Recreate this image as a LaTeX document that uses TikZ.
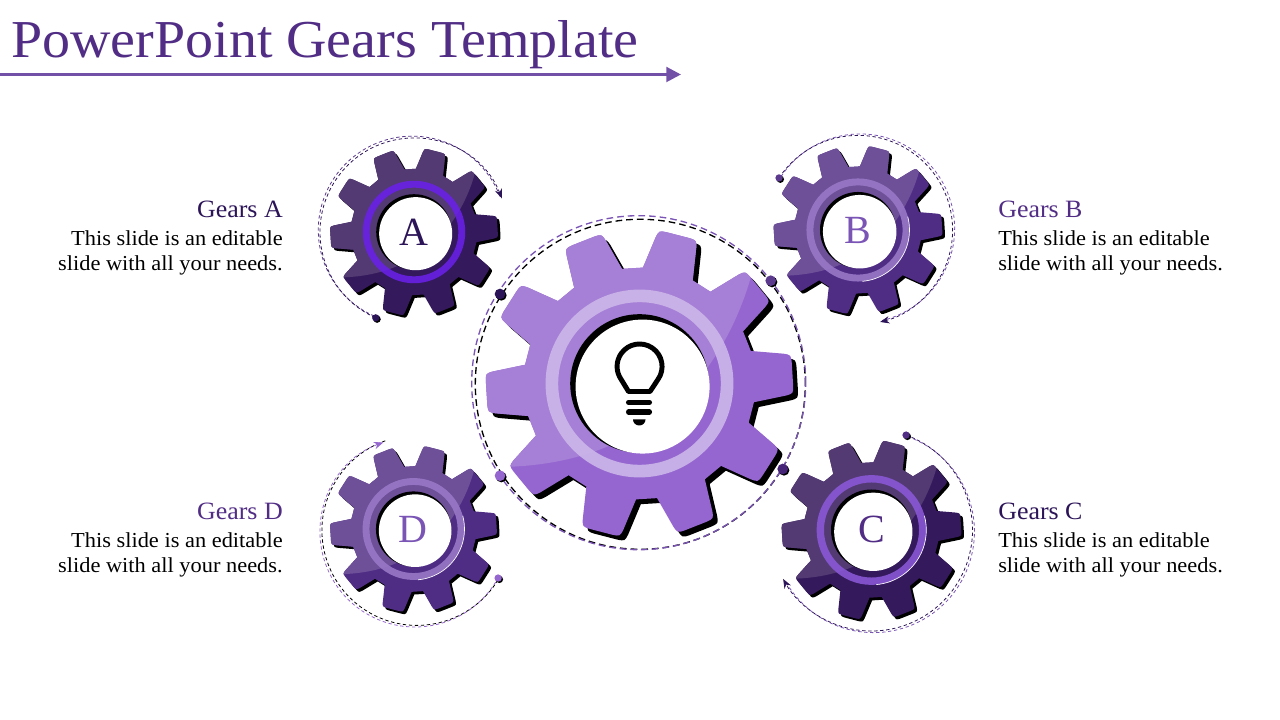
\documentclass[tikz,border=0pt]{standalone}
\usepackage{fontspec}
\setmainfont{Liberation Serif}
\usetikzlibrary{calc,positioning,arrows.meta,shadows}
\definecolor{titlepurple}{HTML}{512D85}
\definecolor{rulepurple}{HTML}{7350A8}
\definecolor{deeppurple}{HTML}{2C1458}
\definecolor{midpurple}{HTML}{5B3A8E}
\definecolor{softpurple}{HTML}{7A55B5}
\definecolor{paleknob}{HTML}{9566D0}
\definecolor{mainlight}{HTML}{A67FD6}
\definecolor{mainring}{HTML}{CDB8EA}
\definecolor{darklight}{HTML}{533A72}
\definecolor{darkgear}{HTML}{341A5C}
\definecolor{softlight}{HTML}{6E5099}
\definecolor{softgear}{HTML}{4F2D85}
\definecolor{softring}{HTML}{9A7AC8}
\definecolor{ringA}{HTML}{6A20E8}
\definecolor{ringC}{HTML}{8A58D8}
\tikzstyle{title} = [anchor=base west, inner sep=0pt, text=titlepurple, font=\fontsize{40}{44}\selectfont\addfontfeature{FakeStretch=1.05}]
\tikzstyle{heading} = [inner sep=0pt, font=\fontsize{18.7}{22}\selectfont\addfontfeature{FakeStretch=1.04}]
\tikzstyle{blurb} = [inner sep=0pt, align=left, font=\fontsize{16}{18.75}\selectfont\addfontfeature{FakeStretch=1.05}]
\tikzstyle{letter} = [inner sep=0pt, font=\fontsize{30}{34}\selectfont]
\tikzstyle{knob} = [circle, inner sep=0pt, minimum size=8pt, drop shadow={shadow xshift=1pt,shadow yshift=-1pt,fill=black,opacity=1}]
\tikzstyle{smallknob} = [knob, minimum size=5.5pt]
\tikzstyle{loopline} = [line width=0.6pt, dash pattern=on 2.5pt off 2pt]
\tikzstyle{bigloop} = [line width=1pt, dash pattern=on 5pt off 3pt]
\tikzstyle{loopend} = [-{Stealth[length=7pt,width=5.5pt]}]
\tikzstyle{loopstart} = [{Stealth[length=7pt,width=5.5pt]}-]
\tikzstyle{ringedge} = [white, line width=0.5pt]
% one outline of ten teeth, radius 1
\def\gearoutline{}
\foreach \k in {0,...,9}{
	\pgfmathsetmacro\ta{75.5+36*\k}
	\pgfmathsetmacro\ra{\ta-12.8}
	\pgfmathsetmacro\rb{\ta-8.2}
	\pgfmathsetmacro\rc{\ta-7.2}
	\pgfmathsetmacro\rd{\ta-4.4}
	\pgfmathsetmacro\re{\ta+4.4}
	\pgfmathsetmacro\rf{\ta+7.2}
	\pgfmathsetmacro\rg{\ta+8.2}
	\pgfmathsetmacro\rh{\ta+12.8}
	\xdef\gearoutline{\gearoutline (\ra:0.753) -- (\rb:0.955) .. controls (\rc:1) .. (\rd:0.998) -- (\re:0.998) .. controls (\rf:1) .. (\rg:0.955) -- (\rh:0.753) -- }
}
% x, y, radius, light, dark, ring colour, shadow shift
\newcommand{\drawgear}[7]{
	\begin{scope}[shift={(#1,#2)},x=#3*0.75pt,y=#3*0.75pt]
		\fill[black,shift={(#7pt,-#7pt)}] \gearoutline cycle;
		\fill[#5] \gearoutline cycle;
		\begin{scope}
			\clip \gearoutline cycle;
			\fill[#4] (0.72,0.68) .. controls (0.55,0.1) and (0.1,-0.5) .. (-0.83,-0.54) -- (-1.2,-0.54) -- (-1.2,1.2) -- (0.72,1.2) -- cycle;
		\end{scope}
		\fill[#6,opacity=0.88,even odd rule] (0,0) circle (0.61) (0,0) circle (0.528);
		\fill[black] (0,0) circle (0.45);
		\fill[white] (0.02,-0.02) circle (0.435);
	\end{scope}
}
\begin{document}
\begin{tikzpicture}
	[x=0.75pt,y=0.75pt]
	\useasboundingbox (0,0) rectangle (1280,720);
	\coordinate (ruleStart) at (0,645.5);
	\coordinate (ruleEnd) at (681,645.5);
	\node[title] (titleText) at (11,662) {PowerPoint Gears Template};
	\draw[rulepurple,line width=2.2pt,-{Triangle[length=11pt,width=11pt]}] (ruleStart) -- (ruleEnd);

	% dashed rings
	\coordinate (mainCentre) at (639.5,336.5);
	\draw[bigloop,black] ($(mainCentre)+(0.8,-0.8)$) circle (165);
	\draw[bigloop,softpurple] ($(mainCentre)+(-0.8,0.8)$) circle (167);

	\coordinate (endA) at ($(414,488)+(21:94)$);
	\draw[loopline,midpurple] ($(endA)+(133:2.5)$) arc[start angle=21,end angle=246,radius=94];
	\draw[loopline,deeppurple,loopstart] (endA) arc[start angle=21,end angle=246,radius=94] coordinate (startA);
	\node[smallknob,fill=deeppurple] (knobA) at (startA) {};

	\coordinate (endB) at ($(858,490)+(146.6:94.6)$);
	\draw[loopline,softpurple] ($(endB)+(35:2.5)$) arc[start angle=146.6,end angle=-76.5,radius=94.6];
	\draw[loopline,deeppurple,loopend] (endB) arc[start angle=146.6,end angle=-76.5,radius=94.6];
	\node[smallknob,fill=midpurple] (knobB) at (endB) {};

	\coordinate (endC) at ($(871.5,190)+(70:101)$);
	\draw[loopline,softpurple] ($(endC)+(-40:2.5)$) arc[start angle=70,end angle=-151,radius=101];
	\draw[loopline,deeppurple,loopend] (endC) arc[start angle=70,end angle=-151,radius=101];
	\node[smallknob,fill=titlepurple] (knobC) at (endC) {};

	\coordinate (endD) at ($(415,188)+(109.5:95)$);
	\draw[loopline,black] ($(endD)+(220:-2.5)$) arc[start angle=109.5,end angle=331,radius=95];
	\draw[loopline,paleknob,loopstart] (endD) arc[start angle=109.5,end angle=331,radius=95] coordinate (stopD);
	\node[smallknob,fill=paleknob] (knobD) at (stopD) {};

	% gears
	\drawgear{639.5}{336.5}{154}{mainlight}{paleknob}{mainring}{3.6}
	\drawgear{414}{488}{84}{darklight}{darkgear}{ringA}{2}
	\drawgear{858}{490}{84.5}{softlight}{softgear}{softring}{2}
	\drawgear{871.5}{190}{90}{darklight}{darkgear}{ringC}{2}
	\drawgear{413.5}{191}{83.5}{softlight}{softgear}{softring}{2}
	\draw[ringedge] ($(858,490)+(-85:51.5)$) arc[start angle=-85,end angle=15,radius=51.5];
	\draw[ringedge] ($(871.5,190)+(-85:54.8)$) arc[start angle=-85,end angle=15,radius=54.8];
	\draw[ringedge] ($(413.5,191)+(-85:51)$) arc[start angle=-85,end angle=15,radius=51];

	% bulb
	\draw[black,line width=3.7pt,line join=round] (658,340.6) arc[start angle=-35,end angle=215,radius=22.5] -- (628.5,328.5) -- (650,328.5) -- cycle;
	\coordinate (barOneA) at (628.5,317.7);
	\coordinate (barOneB) at (649.5,317.7);
	\coordinate (barTwoA) at (628.5,308);
	\coordinate (barTwoB) at (649.5,308);
	\draw[black,line width=3.8pt,line cap=round] (barOneA) -- (barOneB);
	\draw[black,line width=3.8pt,line cap=round] (barTwoA) -- (barTwoB);
	\fill[black] (633,300.5) -- (645.5,300.5) arc[start angle=0,end angle=-180,x radius=6.25,y radius=6] -- cycle;

	% central knobs
	\node[knob,fill=deeppurple] (knobMainA) at (500,426) {};
	\node[knob,fill=midpurple] (knobMainB) at (770.7,439.3) {};
	\node[knob,fill=titlepurple!70!deeppurple] (knobMainC) at (782.7,251) {};
	\node[knob,fill=paleknob] (knobMainD) at (500,244.3) {};

	% letters
	\node[letter,text=deeppurple] (letterA) at (414,488) {A};
	\node[letter,text=softpurple] (letterB) at (858,490) {B};
	\node[letter,text=titlepurple] (letterC) at (871.5,191) {C};
	\node[letter,text=softpurple] (letterD) at (413,191) {D};

	% texts
	\node[heading,anchor=base east,text=deeppurple] (headA) at (283,502) {Gears A};
	\node[blurb,anchor=base east,align=right] (textA) at (283,449) {This slide is an editable\\slide with all your needs.};
	\node[heading,anchor=base west,text=titlepurple] (headB) at (998,502) {Gears B};
	\node[blurb,anchor=base west] (textB) at (998,449) {This slide is an editable\\slide with all your needs.};
	\node[heading,anchor=base west,text=deeppurple] (headC) at (998,200) {Gears C};
	\node[blurb,anchor=base west] (textC) at (998,147) {This slide is an editable\\slide with all your needs.};
	\node[heading,anchor=base east,text=titlepurple] (headD) at (283,200) {Gears D};
	\node[blurb,anchor=base east,align=right] (textD) at (283,147) {This slide is an editable\\slide with all your needs.};
\end{tikzpicture}
\end{document}
